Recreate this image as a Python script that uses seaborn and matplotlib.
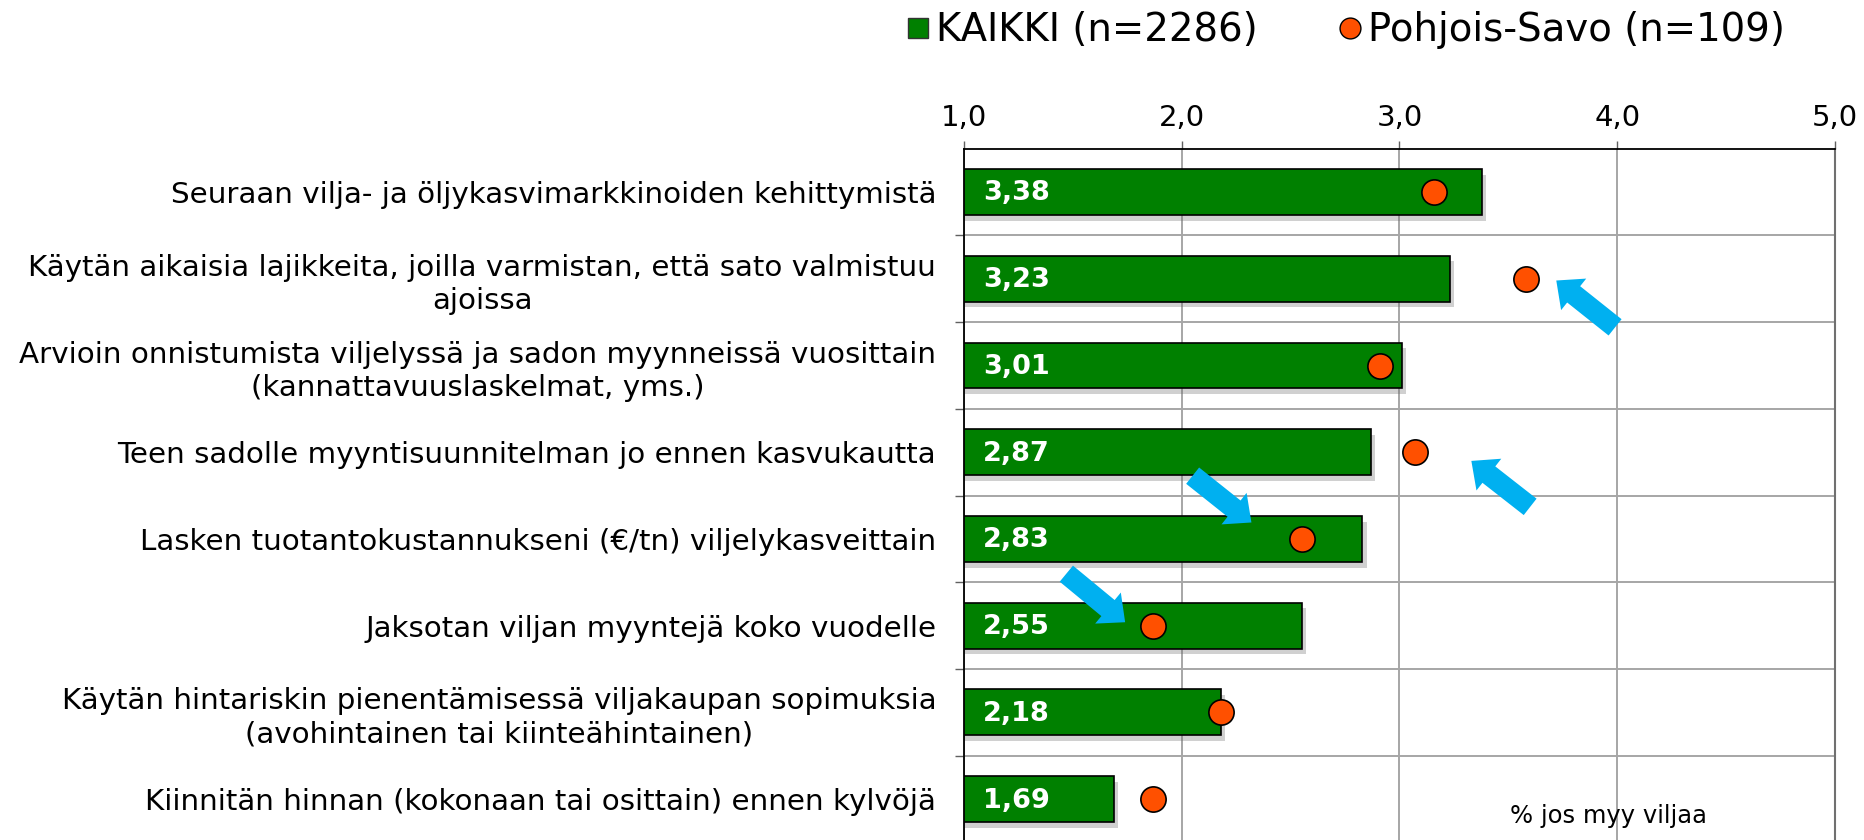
import matplotlib
matplotlib.use("Agg")
import matplotlib.pyplot as plt
import matplotlib.patheffects as pe
from matplotlib.lines import Line2D
from matplotlib.ticker import FuncFormatter, FixedLocator
import seaborn as sns
import pandas as pd

# ---------------- data ----------------
categories = [
    "Seuraan vilja- ja öljykasvimarkkinoiden kehittymistä",
    "Käytän aikaisia lajikkeita, joilla varmistan, että sato valmistuu\najoissa",
    "Arvioin onnistumista viljelyssä ja sadon myynneissä vuosittain\n(kannattavuuslaskelmat, yms.)",
    "Teen sadolle myyntisuunnitelman jo ennen kasvukautta",
    "Lasken tuotantokustannukseni (€/tn) viljelykasveittain",
    "Jaksotan viljan myyntejä koko vuodelle",
    "Käytän hintariskin pienentämisessä viljakaupan sopimuksia\n(avohintainen tai kiinteähintainen)",
    "Kiinnitän hinnan (kokonaan tai osittain) ennen kylvöjä",
]
kaikki = [3.38, 3.23, 3.01, 2.87, 2.83, 2.55, 2.18, 1.69]
pohjois_savo = [3.16, 3.58, 2.91, 3.07, 2.55, 1.87, 2.18, 1.87]
series_labels = ["KAIKKI (n=2286)", "Pohjois-Savo (n=109)"]
x_ticks = [1, 2, 3, 4, 5]
note_text = "% jos myy viljaa"
# highlight arrows: (tip_x, tip_y, tail_x, tail_y) in data units
arrows = [
    (3.72, 1.02, 3.99, 1.56),
    (3.33, 3.10, 3.60, 3.63),
    (2.32, 3.81, 2.05, 3.27),
    (1.74, 4.96, 1.47, 4.40),
]

GREEN = "#008000"
ORANGE = "#FF5000"
CYAN = "#00B0F0"

plt.rcParams["font.family"] = ["DejaVu Sans"]

df = pd.DataFrame({"label": categories, "kaikki": kaikki, "savo": pohjois_savo})

fig = plt.figure(figsize=(18.65, 8.4), dpi=100)
ax = fig.add_axes([964 / 1865, -0.003, (1835 - 964) / 1865, 0.826])

sns.barplot(data=df, y="label", x="kaikki", orient="h", color=GREEN,
            edgecolor="black", linewidth=1.2, width=0.53, saturation=1,
            ax=ax, zorder=2)
for p in ax.patches:
    p.set_path_effects([pe.SimplePatchShadow(offset=(3, -4), shadow_rgbFace="#666666", alpha=0.3),
                        pe.Normal()])

sns.scatterplot(data=df, x="savo", y="label", s=330, color=ORANGE,
                edgecolor="black", linewidth=1.2, zorder=4, ax=ax, legend=False)

# value labels in bars
for i, v in enumerate(kaikki):
    ax.annotate(f"{v:.2f}".replace(".", ","), xy=(1, i), xytext=(13.5, -1),
                textcoords="offset points", ha="left", va="center",
                color="white", fontsize=19.5, fontweight="bold", zorder=5)

# arrows
for tx, ty, sx, sy in arrows:
    ax.annotate("", xy=(tx, ty), xytext=(sx, sy),
                arrowprops=dict(arrowstyle="simple,head_length=1.6,head_width=2.9,tail_width=1.5",
                                mutation_scale=10, color=CYAN, lw=0,
                                shrinkA=0, shrinkB=0), zorder=6)

ax.set_xlim(1, 5)
ax.set_ylim(len(categories) - 0.5, -0.5)
ax.set_xlabel("")
ax.set_ylabel("")

ax.xaxis.tick_top()
ax.set_xticks(x_ticks)
ax.xaxis.set_major_formatter(FuncFormatter(lambda v, p: f"{v:.1f}".replace(".", ",")))
ax.tick_params(axis="x", which="major", direction="out", length=6, width=1,
               color="#606060", labelsize=21, pad=6)

ax.yaxis.set_minor_locator(FixedLocator([i + 0.5 for i in range(len(categories) - 1)]))
ax.tick_params(axis="y", which="major", length=0, labelsize=21.2, pad=20)
ax.tick_params(axis="y", which="minor", direction="out", length=6.5, width=1, color="#606060")
for t in ax.get_yticklabels():
    t.set_multialignment("center")
    t.set_linespacing(1.25)

ax.grid(axis="x", which="major", color="#a6a6a6", linewidth=1.4, zorder=0)
ax.grid(axis="y", which="minor", color="#a6a6a6", linewidth=1.4, zorder=0)
ax.grid(axis="y", which="major", visible=False)
ax.set_axisbelow(True)

for s in ["top", "left"]:
    ax.spines[s].set_color("black")
    ax.spines[s].set_linewidth(1.3)
ax.spines["right"].set_color("#707070")
ax.spines["right"].set_linewidth(1.5)
ax.spines["bottom"].set_visible(False)

ax.text(1510 / 1865, 1 - 816 / 840, note_text, transform=fig.transFigure,
        fontsize=17.5, ha="left", va="center")

handles = [
    Line2D([], [], marker="s", linestyle="none", markersize=14, markerfacecolor=GREEN,
           markeredgecolor="#333333", markeredgewidth=1),
    Line2D([], [], marker="o", linestyle="none", markersize=15, markerfacecolor=ORANGE,
           markeredgecolor="black", markeredgewidth=1),
]
fig.legend(handles, series_labels, loc="center", bbox_to_anchor=(0.7205, 0.964),
           ncol=2, frameon=False, fontsize=27.8, handletextpad=0.05,
           columnspacing=2.0, handlelength=0.8, borderaxespad=0)

fig.savefig("out.png", dpi=100)
